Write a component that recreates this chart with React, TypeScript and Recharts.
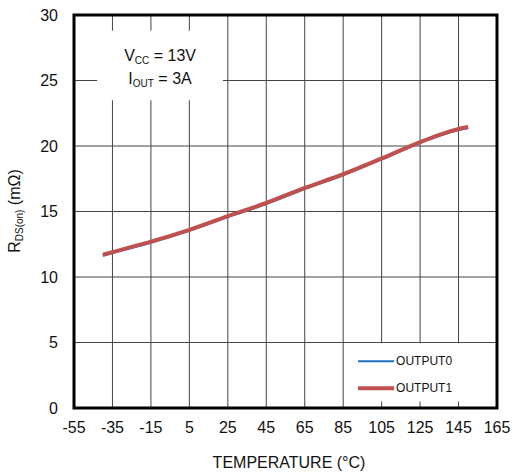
import React from 'react';
import { LineChart, Line, XAxis, YAxis, CartesianGrid, ReferenceArea } from 'recharts';

const temperatures = [-40, -25, -15, 5, 25, 45, 65, 85, 105, 125, 135, 145, 150];
const output0 = [11.62, 12.22, 12.62, 13.52, 14.57, 15.57, 16.72, 17.77, 18.97, 20.22, 20.77, 21.22, 21.38];
const output1 = [11.7, 12.3, 12.7, 13.6, 14.65, 15.65, 16.8, 17.85, 19.05, 20.3, 20.85, 21.3, 21.45];
const xTicks = [-55, -35, -15, 5, 25, 45, 65, 85, 105, 125, 145, 165];
const yTicks = [0, 5, 10, 15, 20, 25, 30];
const seriesNames = ['OUTPUT0', 'OUTPUT1'];
const seriesColors = ['#1f6fc0', '#c0504d'];

const data = temperatures.map((t, i) => ({ t, o0: output0[i], o1: output1[i] }));

const FONT = '"Liberation Sans", Arial, sans-serif';

const LegendLabel = (props: any) => {
  const vb = props.viewBox || {};
  const x0 = (vb.x || 0) + 13;
  const y0 = vb.y || 0;
  return (
    <g fontFamily={FONT} fill="#111">
      {seriesNames.map((n, i) => (
        <g key={n}>
          <line
            x1={x0}
            x2={x0 + 36}
            y1={y0 + 18 + i * 27}
            y2={y0 + 18 + i * 27}
            stroke={seriesColors[i]}
            strokeWidth={i === 0 ? 2 : 4}
          />
          <text x={x0 + 38} y={y0 + 22 + i * 27} fontSize={12}>
            {n}
          </text>
        </g>
      ))}
    </g>
  );
};

const AnnotationLabel = (props: any) => {
  const vb = props.viewBox || {};
  const cx = (vb.x || 0) + (vb.width || 0) / 2;
  const y0 = vb.y || 0;
  return (
    <g fontFamily={FONT} fill="#111">
      <text x={cx} y={y0 + 30} textAnchor="middle" fontSize={16}>
        V<tspan fontSize={10} dy={3}>CC</tspan>
        <tspan dy={-3}> = 13V</tspan>
      </text>
      <text x={cx} y={y0 + 53} textAnchor="middle" fontSize={16}>
        I<tspan fontSize={10} dy={3}>OUT</tspan>
        <tspan dy={-3}> = 3A</tspan>
      </text>
    </g>
  );
};

const YLabel = () => (
  <text
    x={20}
    y={211}
    transform="rotate(-90, 20, 211)"
    textAnchor="middle"
    fontFamily={FONT}
    fontSize={16}
    fill="#111"
  >
    R<tspan fontSize={10} dy={3}>DS(on)</tspan>
    <tspan dy={-3}> (mΩ)</tspan>
  </text>
);

const XLabel = () => (
  <text x={289} y={468} textAnchor="middle" fontFamily={FONT} fontSize={16} fill="#111">
    TEMPERATURE (°C)
  </text>
);

export default function App() {
  return (
    <div style={{ position: 'absolute', left: 0, top: 0, width: 514, height: 473, background: '#fff' }}>
      <LineChart width={514} height={473} data={data} margin={{ top: 15, right: 17, left: 0, bottom: 0 }}>
        <CartesianGrid stroke="#444" strokeWidth={1} />
        <XAxis
          dataKey="t"
          type="number"
          domain={[-55, 165]}
          ticks={xTicks}
          interval={0}
          height={65}
          axisLine={false}
          tickLine={false}
          tickSize={0}
          tickMargin={14}
          tick={{ fontFamily: FONT, fontSize: 16, fill: '#111' }}
          label={<XLabel />}
        />
        <YAxis
          type="number"
          domain={[0, 30]}
          ticks={yTicks}
          interval={0}
          width={74}
          axisLine={false}
          tickLine={false}
          tickSize={0}
          tickMargin={16}
          tick={{ fontFamily: FONT, fontSize: 16, fill: '#111' }}
          label={<YLabel />}
        />
        <ReferenceArea x1={-43} x2={22.5} y1={23.5} y2={28.8} fill="#fff" fillOpacity={1} stroke="none" label={<AnnotationLabel />} />
        <ReferenceArea x1={86} x2={165} y1={0.5} y2={4.95} fill="#fff" fillOpacity={1} stroke="none" label={<LegendLabel />} />
        <Line dataKey="o0" name={seriesNames[0]} type="monotone" stroke={seriesColors[0]} strokeWidth={2} dot={false} isAnimationActive={false} />
        <Line dataKey="o1" name={seriesNames[1]} type="monotone" stroke={seriesColors[1]} strokeWidth={4} dot={false} isAnimationActive={false} />
        <ReferenceArea x1={-55} x2={165} y1={0} y2={30} fill="none" stroke="#000" strokeWidth={3} />
      </LineChart>
    </div>
  );
}
